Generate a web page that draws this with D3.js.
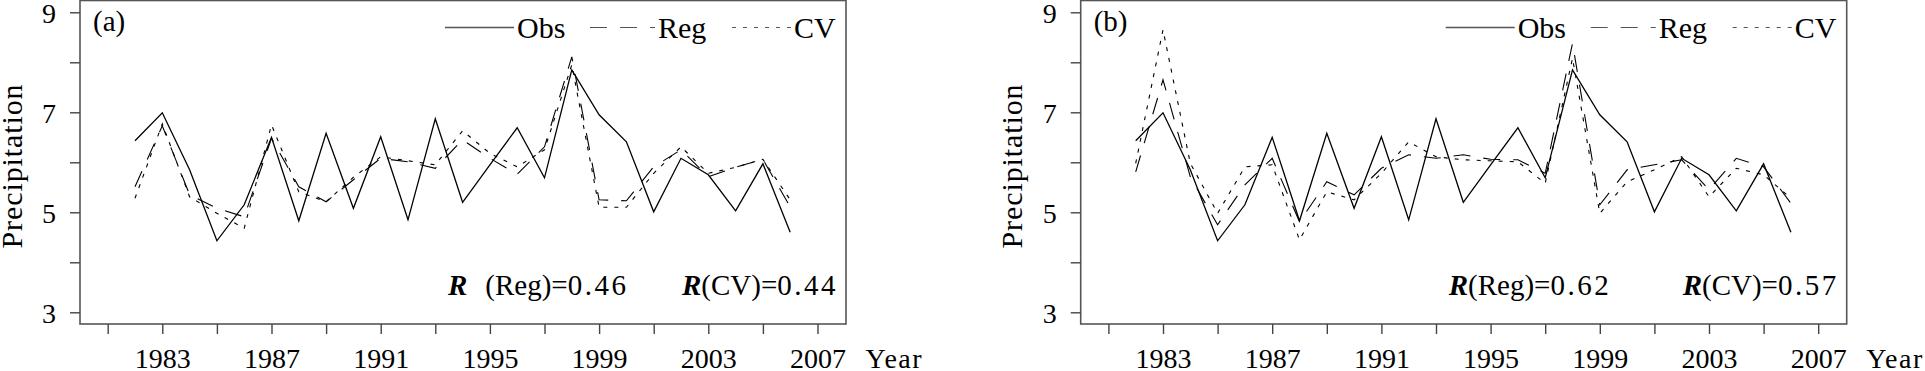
<!DOCTYPE html>
<html>
<head>
<meta charset="utf-8">
<script src="https://cdn.jsdelivr.net/npm/d3@7"></script>
<style>
  html, body { margin: 0; padding: 0; background: #fff; }
  svg { display: block; font-family: "Liberation Serif", "Times New Roman", serif; }
</style>
</head>
<body>
<svg id="chart" width="1925" height="371"></svg>
<script>
// years 1982-2006
const years = [1982, 1983, 1984, 1985, 1986, 1987, 1988, 1989, 1990, 1991, 1992, 1993,
    1994, 1995, 1996, 1997, 1998, 1999, 2000, 2001, 2002, 2003, 2004, 2005, 2006];

const obs = [6.43, 6.99, 5.85, 4.43, 5.15, 6.50, 4.83, 6.58, 5.08, 6.51, 4.85, 6.87,
    5.20, 5.95, 6.69, 5.69, 7.85, 6.95, 6.41, 5.01, 6.08, 5.75, 5.03, 5.97, 4.60];

const regA = [5.51, 6.73, 5.35, 5.08, 4.91, 6.48, 5.51, 5.21, 5.65, 6.08, 6.01, 5.88,
    6.45, 6.08, 5.76, 6.31, 8.11, 5.25, 5.23, 5.91, 6.25, 5.71, 5.90, 6.06, 5.11];
const cvA = [5.28, 6.77, 5.31, 4.98, 4.68, 6.75, 5.41, 5.21, 5.70, 6.11, 6.03, 5.95,
    6.63, 6.18, 5.91, 6.25, 7.95, 5.10, 5.10, 5.78, 6.31, 5.78, 5.90, 6.06, 5.25];

const regB = [5.81, 7.65, 5.71, 4.75, 5.55, 6.08, 4.81, 5.61, 5.35, 5.88, 6.15, 6.08,
    6.15, 6.06, 6.05, 5.78, 8.38, 5.15, 5.85, 5.95, 6.05, 5.45, 6.08, 5.91, 5.18];
const cvB = [5.98, 8.65, 5.98, 4.98, 5.91, 5.95, 4.45, 5.41, 5.25, 5.78, 6.41, 6.11,
    6.05, 6.03, 6.01, 5.58, 8.08, 4.98, 5.61, 5.85, 6.11, 5.31, 5.88, 5.75, 5.28];

const xTicks = [1981, 1983, 1985, 1987, 1989, 1991, 1993, 1995, 1997, 1999, 2001, 2003, 2005, 2007];
const xLabels = [1983, 1987, 1991, 1995, 1999, 2003, 2007];
const yTicks = [3, 4, 5, 6, 7, 8, 9];
const yLabels = [3, 5, 7, 9];

const seriesNames = ["Obs", "Reg", "CV"];
const panelTags = ["(a)", "(b)"];
const rValsA = ["0.46", "0.44"];
const rValsB = ["0.62", "0.57"];

const styles = {
    Obs: { dash: null, width: 1.3 },
    Reg: { dash: "17,13", width: 1.1 },
    CV:  { dash: "4,7",  width: 1.1 }
};

const svg = d3.select("#chart");
const FRAME = { left: 80, right: 846, top: 0.5, bottom: 324 };

const x = d3.scaleLinear().domain([1981, 2007]).range([107.7, 817.5]);
const y = d3.scaleLinear().domain([3, 9]).range([312.3, 12.3]);

const line = d3.line().x(d => x(d[0])).y(d => y(d[1]));

function drawPanel(offset, tag, series, rVals, rGap) {
    const g = svg.append("g").attr("transform", `translate(${offset},0)`);

    // data lines
    seriesNames.forEach((name, i) => {
        g.append("path")
            .datum(years.map((yr, j) => [yr, series[i][j]]))
            .attr("d", line)
            .attr("fill", "none")
            .attr("stroke", "#000")
            .attr("stroke-width", styles[name].width)
            .attr("stroke-dasharray", styles[name].dash);
    });

    // frame
    g.append("rect")
        .attr("x", FRAME.left).attr("y", FRAME.top)
        .attr("width", FRAME.right - FRAME.left)
        .attr("height", FRAME.bottom - FRAME.top)
        .attr("fill", "none").attr("stroke", "#555").attr("stroke-width", 1.6);

    // y axis
    const yAxis = d3.axisLeft(y).tickValues(yTicks).tickSize(10)
        .tickFormat(d => yLabels.includes(d) ? d : "");
    const ya = g.append("g").attr("transform", `translate(${FRAME.left},0)`).call(yAxis);
    ya.select(".domain").remove();
    ya.selectAll(".tick line").attr("stroke", "#444").attr("stroke-width", 1.4);
    ya.selectAll(".tick text")
        .attr("x", -24).attr("dy", "0.35em")
        .attr("font-family", "Liberation Serif, serif")
        .attr("font-size", 28).attr("fill", "#000");

    // x axis
    const xAxis = d3.axisBottom(x).tickValues(xTicks).tickSize(10)
        .tickFormat(d => xLabels.includes(d) ? d : "");
    const xa = g.append("g").attr("transform", `translate(0,${FRAME.bottom})`).call(xAxis);
    xa.select(".domain").remove();
    xa.selectAll(".tick line").attr("stroke", "#444").attr("stroke-width", 1.4);
    xa.selectAll(".tick text")
        .attr("y", 44).attr("dy", 0)
        .attr("font-family", "Liberation Serif, serif")
        .attr("font-size", 28).attr("fill", "#000");

    g.append("text")
        .attr("x", x(2007) + 48).attr("y", 368)
        .attr("font-size", 28).attr("letter-spacing", 1.5)
        .text("Year");

    // y label
    g.append("text")
        .attr("transform", `translate(21.5,${166}) rotate(-90)`)
        .attr("text-anchor", "middle")
        .attr("font-size", 30).attr("letter-spacing", 0.9)
        .text("Precipitation");

    // panel tag
    g.append("text")
        .attr("x", 93).attr("y", 31)
        .attr("font-size", 29)
        .text(tag);

    // legend
    const legX = [445, 590, 732];
    const legText = [517, 658, 794];
    seriesNames.forEach((name, i) => {
        g.append("line")
            .attr("x1", legX[i]).attr("x2", legText[i] - 3)
            .attr("y1", 27.5).attr("y2", 27.5)
            .attr("stroke", "#555")
            .attr("stroke-width", styles[name].width)
            .attr("stroke-dasharray", styles[name].dash);
        g.append("text")
            .attr("x", legText[i]).attr("y", 38)
            .attr("font-size", 30)
            .text(name);
    });

    // correlation annotations
    const t1 = g.append("text").attr("x", 448).attr("y", 295).attr("font-size", 29);
    t1.append("tspan").attr("font-style", "italic").attr("font-weight", "bold").text("R");
    t1.append("tspan").attr("dx", rGap).text(`(${seriesNames[1]})=`);
    t1.append("tspan").attr("letter-spacing", 2.5).text(rVals[0]);

    const t2 = g.append("text").attr("x", 838).attr("y", 295).attr("font-size", 29)
        .attr("text-anchor", "end");
    t2.append("tspan").attr("font-style", "italic").attr("font-weight", "bold").text("R");
    t2.append("tspan").text(`(${seriesNames[2]})=`);
    t2.append("tspan").attr("letter-spacing", 2.5).text(rVals[1]);
}

drawPanel(0, panelTags[0], [obs, regA, cvA], rValsA, 18);
drawPanel(1000.7, panelTags[1], [obs, regB, cvB], rValsB, 0);
</script>
</body>
</html>
